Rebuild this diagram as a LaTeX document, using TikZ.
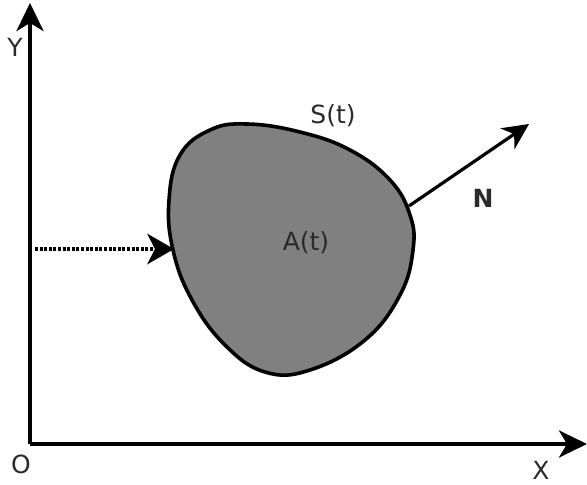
\documentclass[tikz,border=0pt]{standalone}
\usepackage{fontspec}
\setmainfont{DejaVu Sans}
\usepackage{xcolor}
\usepackage{tikz}
\usetikzlibrary{arrows.meta}
\definecolor{BlobGray}{HTML}{808080}
\definecolor{LabelInk}{HTML}{2A2A2A}

\begin{document}
\begin{tikzpicture}[
  x=1pt,y=-1pt,
  axis/.style={-{Stealth[length=28pt,width=27pt,inset=8pt]},line width=4pt,draw=black},
  flow/.style={-{Stealth[length=27pt,width=31pt,inset=8pt,line width=0pt]},line width=3.2pt,draw=black,dash pattern=on 3pt off 1.6pt},
  normal/.style={-{Stealth[length=26pt,width=25pt,inset=8pt]},line width=3.2pt,draw=black},
  region/.style={fill=BlobGray,draw=black,line width=3.6pt},
  lbl/.style={font=\fontsize{25}{28}\selectfont,text=LabelInk,inner sep=0pt}
]
  \useasboundingbox (0,0) rectangle (587,485);
  % axes
  \coordinate (O) at (30,444);
  \coordinate (ytip) at (30,3);
  \coordinate (xtip) at (587,444);
  \draw[axis] (O) -- (ytip);
  \draw[axis] (O) -- (xtip);
  \node[lbl] (ylabel) at (15,47) {Y};
  \node[lbl] (olabel) at (21,464) {O};
  \node[lbl] (xlabel) at (541,470) {X};
  % the region A(t) with its boundary S(t)
  \draw[region] plot[smooth cycle,tension=0.7] coordinates {
    (247,124) (300,132) (350,150) (390,180) (410,215) (413,250)
    (400,295) (365,340) (310,370) (265,372) (225,345) (192,300)
    (173,250) (169,200) (180,155) (210,130)};
  \node[lbl] (area) at (306,243) {A(t)};
  \node[lbl] (surf) at (333,116) {S(t)};
  % incoming flow and outward normal
  \coordinate (inflow) at (35,249);
  \coordinate (hit) at (174,249);
  \draw[flow] (inflow) -- (hit);
  \coordinate (foot) at (409,206);
  \coordinate (ntip) at (529,124);
  \draw[normal] (foot) -- (ntip);
  \node[lbl,font=\fontsize{25}{28}\selectfont\bfseries] (nlabel) at (483,198) {N};
\end{tikzpicture}
\end{document}
